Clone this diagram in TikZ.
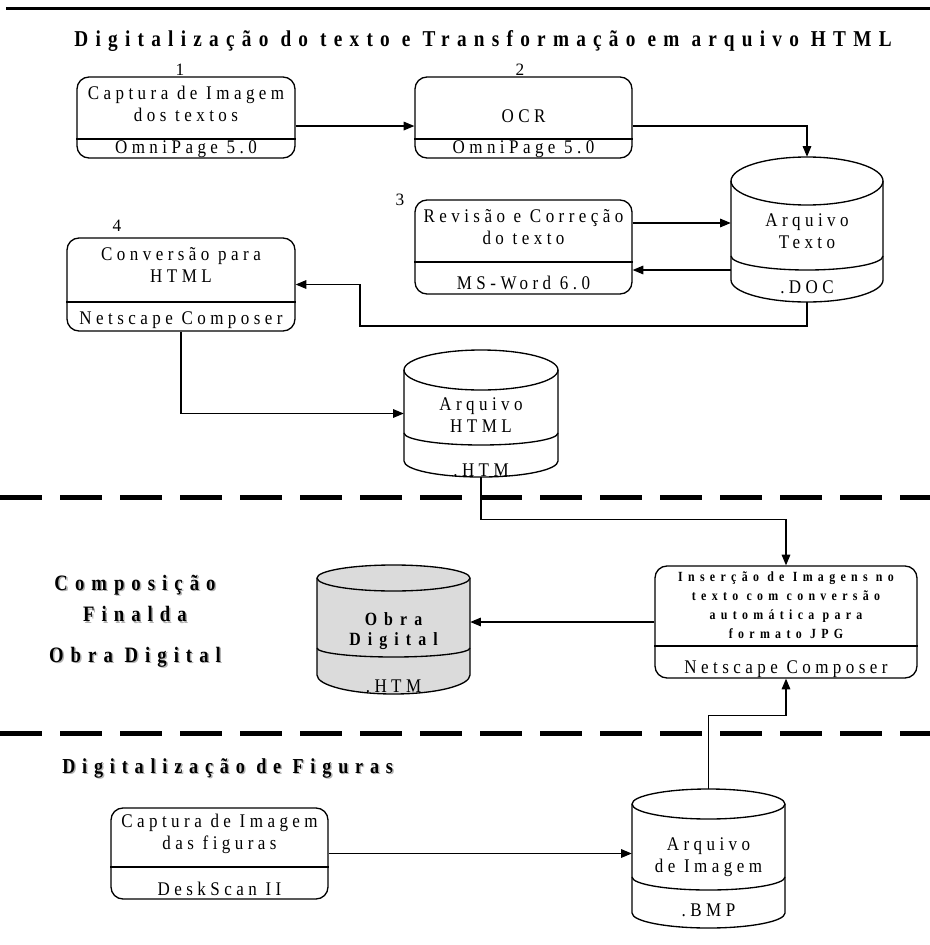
\documentclass[tikz,border=0pt]{standalone}
\usepackage{fontspec}
\setmainfont{Liberation Serif}
\newfontfamily\rs[LetterSpace=23,FakeStretch=0.88]{Liberation Serif}
\newfontfamily\bs[LetterSpace=32,FakeStretch=0.85]{Liberation Serif}
\newfontfamily\bss[LetterSpace=38,FakeStretch=0.85]{Liberation Serif}
\usetikzlibrary{arrows.meta}
\tikzset{
  pbox/.style={draw, line width=1pt, rounded corners=9pt, inner sep=0pt},
  conn/.style={line width=0.8pt},
  arr/.style={conn, -{Triangle[length=8pt,width=6.5pt]}},
  rt/.style={font=\rs\fontsize{14.5}{16.5}\selectfont, align=center, inner sep=0pt},
  numt/.style={font=\fontsize{13}{15}\selectfont, inner sep=0pt},
  bt/.style={font=\bs\bfseries\fontsize{17}{18}\selectfont, inner sep=0pt},
  st/.style={font=\bs\bfseries\fontsize{16.5}{18}\selectfont, inner sep=0pt},
  ft/.style={font=\bs\bfseries\fontsize{16}{18}\selectfont, inner sep=0pt},
  sh/.style={text=black!30},
  b5t/.style={font=\bss\bfseries\fontsize{10.5}{14.25}\selectfont, align=center, inner sep=0pt},
  cyt/.style={font=\bss\bfseries\fontsize{14}{14.5}\selectfont, align=center, inner sep=0pt},
  cylbox/.style={inner sep=0pt, draw=none},
  dashline/.style={line width=3.75pt, dash pattern=on 31.5pt off 13.5pt},
}
\def\cylfill{white}
% #1 name, #2 cx, #3 half width, #4 ytop, #5 ry top, #6 ydiv, #7 ry div, #8 y side bottom, #9 ry bottom
\newcommand\drawcyl[9]{%
  \path[draw, line width=1pt, fill=\cylfill]
    ({#2-#3},{#4+#5}) arc[start angle=180, end angle=360, x radius=#3, y radius=#5]
    -- ({#2+#3},#8) arc[start angle=0, end angle=180, x radius=#3, y radius=#9] -- cycle;
  \draw[line width=1pt] ({#2-#3},{#4+#5}) arc[start angle=180, end angle=0, x radius=#3, y radius=#5];
  \draw[line width=1pt] ({#2-#3},#6) arc[start angle=180, end angle=0, x radius=#3, y radius=#7];
  \node[cylbox, minimum width={2*#3*0.75pt}, minimum height={(#8+#9-#4)*0.75pt}] (#1) at (#2,{(#4+#8+#9)/2}) {};
}
\begin{document}
\begin{tikzpicture}[x=0.75pt,y=-0.75pt]
\useasboundingbox (0,0) rectangle (930,945);

% top rule and dashed separators
\draw[line width=2.25pt] (6,9) -- (930,9);
\draw[dashline] (0,497) -- (930,497);
\draw[dashline] (0,733) -- (930,733);

% titles
\node[bt] (title) at (483,41) {Digitalização do texto e Transformação em arquivo HTML};

\node[st, sh] (compS) at (136.5,586.5) {Composição};
\node[st] (comp) at (135,585) {Composição};
\node[st, sh] (finS) at (136.5,615.5) {Finalda};
\node[st] (fin) at (135,614) {Finalda};
\node[st, sh] (obS) at (136.5,658.5) {Obra Digital};
\node[st] (ob) at (135,657) {Obra Digital};

\node[ft, sh, anchor=west] (figS) at (63.5,769.5) {Digitalização de Figuras};
\node[ft, anchor=west] (fig) at (62,768) {Digitalização de Figuras};

% process boxes
\node[pbox, minimum width=218*0.75pt, minimum height=81*0.75pt] (b1) at (186,117.5) {};
\draw[line width=1pt] (b1.west |- 0,139) -- (b1.east |- 0,139);
\node[rt] (t1) at (186,104) {Captura de Imagem\\dos textos};
\node[rt] (s1) at (186,149) {OmniPage 5.0};
\node[numt] (n1) at (180,70) {1};

\node[pbox, minimum width=217*0.75pt, minimum height=81*0.75pt] (b2) at (523.5,117.5) {};
\draw[line width=1pt] (b2.west |- 0,139) -- (b2.east |- 0,139);
\node[rt] (t2) at (523.5,116) {OCR};
\node[rt] (s2) at (523.5,149) {OmniPage 5.0};
\node[numt] (n2) at (520,70) {2};

\node[pbox, minimum width=217*0.75pt, minimum height=94*0.75pt] (b3) at (523.5,247) {};
\draw[line width=1pt] (b3.west |- 0,262) -- (b3.east |- 0,262);
\node[rt] (t3) at (523.5,227.5) {Revisão e Correção\\do texto};
\node[rt] (s3) at (523.5,283) {MS-Word 6.0};
\node[numt] (n3) at (400,200) {3};

\node[pbox, minimum width=228*0.75pt, minimum height=93*0.75pt] (b4) at (181,284.5) {};
\draw[line width=1pt] (b4.west |- 0,302) -- (b4.east |- 0,302);
\node[rt] (t4) at (181,264.5) {Conversão para\\HTML};
\node[rt] (s4) at (181,320) {Netscape Composer};
\node[numt] (n4) at (117,226) {4};

\node[pbox, minimum width=262*0.75pt, minimum height=112*0.75pt] (b5) at (786,622) {};
\draw[line width=1pt] (b5.west |- 0,646) -- (b5.east |- 0,646);
\node[b5t] (t5) at (786,605.5) {Inserção de Imagens no\\texto com conversão\\automática para\\formato JPG};
\node[rt] (s5) at (786,669) {Netscape Composer};

\node[pbox, minimum width=217*0.75pt, minimum height=91*0.75pt] (b6) at (219.5,853.5) {};
\draw[line width=1pt] (b6.west |- 0,867) -- (b6.east |- 0,867);
\node[rt] (t6) at (219.5,834) {Captura de Imagem\\das figuras};
\node[rt] (s6) at (219.5,889) {DeskScan II};

% data stores
\drawcyl{cylT}{807}{76}{157}{24}{256}{14}{280}{22}
\node[rt] (cTt) at (807,231.5) {Arquivo\\Texto};
\node[rt] (cTs) at (807,287) {.DOC};

\drawcyl{cylH}{481}{77}{350}{20}{433}{12}{461}{16}
\node[rt] (cHt) at (481,415.5) {Arquivo\\HTML};
\node[rt] (cHs) at (481,470) {.HTM};

\def\cylfill{black!14}
\drawcyl{cylO}{393.5}{76.5}{565}{13}{648}{9}{675}{19}
\def\cylfill{white}
\node[cyt] (cOt) at (393.5,631) {Obra\\Digital};
\node[rt] (cOs) at (393.5,686) {.HTM};

\drawcyl{cylB}{708.5}{76.5}{789}{15}{877}{13}{913}{15}
\node[rt] (cBt) at (708.5,857) {Arquivo\\de Imagem};
\node[rt] (cBs) at (708.5,910) {.BMP};

% connectors
\coordinate (k1) at (360,326);
\draw[arr] ([yshift=-6.4pt]b1.east) -- ([yshift=-6.4pt]b2.west);
\draw[arr] ([yshift=-6.4pt]b2.east) -| (cylT.north);
\draw[arr] ([yshift=18pt]b3.east) -- ([yshift=18pt]b3.east -| cylT.west);
\draw[arr] ([yshift=-17.25pt]b3.east -| cylT.west) -- ([yshift=-17.25pt]b3.east);
\draw[arr] (cylT.south) |- (k1) |- (b4.east);
\draw[arr] (b4.south) |- (cylH.west);
\draw[arr] (cylH.south) -- ++(0,42) -| (b5.north);
\draw[arr] (b5.west) -- (b5.west -| cylO.east);
\draw[arr] (b6.east) -- (b6.east -| cylB.west);
\draw[arr] (cylB.north) -- ++(0,-73) -| (b5.south);
\end{tikzpicture}
\end{document}
